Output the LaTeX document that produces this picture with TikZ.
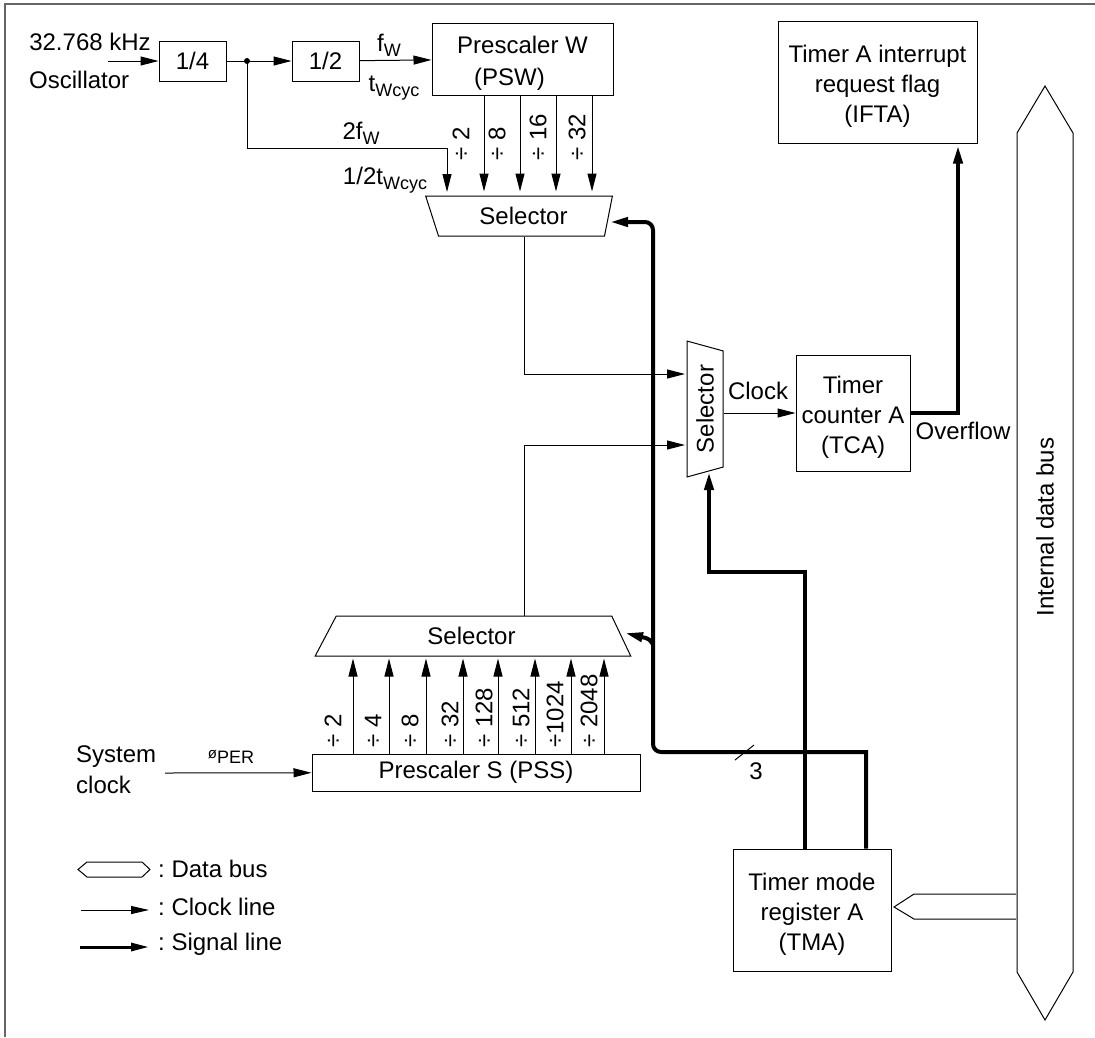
\documentclass[tikz,border=0pt]{standalone}
\usepackage{fontspec}
\setmainfont{Liberation Sans}
\usetikzlibrary{arrows.meta,shapes.geometric}
\newcommand{\lowtxt}[1]{\raisebox{-5pt}{\fontsize{18}{18}\selectfont #1}}
\newcommand{\topgap}{\rule{0pt}{25pt}}
\tikzset{
  every node/.style={font=\fontsize{24}{30}\selectfont, inner sep=0pt},
  blockbox/.style={draw, line width=1pt, align=center, fill=white},
  selbox/.style={draw, line width=1pt, trapezium, trapezium stretches=true},
  clockline/.style={line width=1pt, -{Triangle[length=18pt,width=9pt]}},
  sigline/.style={line width=4pt, -{Triangle[length=18pt,width=9pt]}},
  busline/.style={line width=1pt},
  divlabel/.style={rotate=90, anchor=west},
}
\begin{document}
\begin{tikzpicture}[x=1pt,y=-1pt]
\useasboundingbox (0,0) rectangle (1095,1037);
\draw[line width=1.5pt, black!60] (1095,4) -- (5,4) -- (5,1037);
% clock blocks
\node[blockbox, minimum width=67pt, minimum height=40pt] (diva) at (192.5,61) {1/4};
\node[blockbox, minimum width=67pt, minimum height=40pt] (divb) at (325.5,61) {1/2};
\node[blockbox, minimum width=181pt, minimum height=72pt] (psw) at (522.5,59) {\topgap Prescaler W\\[2pt](PSW)\hspace{26pt}\mbox{}};
\node[blockbox, minimum width=199pt, minimum height=122pt] (ifta) at (877.5,82) {\topgap Timer A interrupt\\request flag\\(IFTA)};
\node[blockbox, minimum width=114pt, minimum height=116pt] (tca) at (853,413) {\topgap Timer\\counter A\\(TCA)};
\node[blockbox, minimum width=158pt, minimum height=122pt] (tma) at (812,910) {\topgap Timer mode\\register A\\(TMA)};
\node[blockbox, minimum width=328pt, minimum height=37pt] (pss) at (476,772.5) {Prescaler S (PSS)};
% selectors
\node[selbox, minimum width=187pt, minimum height=40pt, shape border rotate=180,
  trapezium left angle=76, trapezium right angle=68] (sela) at (521.5,216) {\hspace*{4pt}Selector};
\node[selbox, minimum width=316pt, minimum height=40pt,
  trapezium left angle=68, trapezium right angle=70] (selb) at (474,636) {Selector\hspace*{5pt}};
\node[selbox, minimum width=136pt, minimum height=36pt, shape border rotate=180, rotate=90,
  trapezium left angle=67, trapezium right angle=67] (selc) at (705,409) {Selector};
% free ends
\coordinate (osc) at (108,61);
\coordinate (sysclk) at (165,773);
\coordinate (junc) at (247,61);
\coordinate (brk) at (447,148);
\coordinate (selain) at (447,192);
\coordinate (ina) at (685,374);
\coordinate (inb) at (685,445);
\coordinate (outa) at (524,0);
\coordinate (sigx) at (653,752);
\coordinate (sigup) at (653,222);
\coordinate (sigtop) at (610,222);
\coordinate (sigbot) at (625,633);
\coordinate (tmaa) at (805,0);
\coordinate (tmab) at (866,0);
\coordinate (ovfl) at (958,0);
\draw[clockline] (osc) -- (diva);
\draw[clockline] (diva) -- (divb);
\draw[clockline] (divb) -- (psw);
\fill (junc) circle (3pt);
\draw[clockline] (junc) |- (brk) -- (selain);
\foreach \x in {484,520,556,592} {
  \coordinate (pw\x) at (\x,0);
  \draw[clockline, shorten >=4pt] (psw.south -| pw\x) -- (sela.north -| pw\x);
}
\foreach \x in {353,389,426,463,498,535,571,604} {
  \coordinate (ps\x) at (\x,0);
  \draw[clockline, shorten >=2pt] (pss.north -| ps\x) -- (selb.south -| ps\x);
}
\draw[clockline] (sela.south -| outa) |- (ina);
\draw[clockline] (selb.north -| outa) |- (inb);
\draw[clockline] (selc.south |- tca) -- (tca);
\draw[clockline] (sysclk) -- (pss);
% signal lines
\draw[sigline] (tmab |- tma.north) -- (tmab |- sigx) [rounded corners=8pt] -- (sigx) -- (sigup) -- (sigtop);
\draw[sigline, rounded corners=4pt] (653,645) -- (650,639) -- (sigbot);
\draw[sigline] (tmaa |- tma.north) |- (709,572) -- (709,472);
\draw[sigline, shorten >=2pt] (tca.east) -| (ifta.south -| ovfl);
\draw[line width=1pt] (735,760) -- (754,745);
% data bus
\draw[busline, fill=white] (1017,133) -- (1045,86) -- (1073,133) -- (1073,972) -- (1045,1020) -- (1017,972) -- cycle;
\node[rotate=90] (buslabel) at (1045,527) {Internal data bus};
\draw[busline] (1016,894) -- (914,894) -- (894,907) -- (914,919) -- (1016,919);
% labels
\node (lblosca) at (90,42) {32.768 kHz};
\node[anchor=west] (lbloscb) at (29,80) {Oscillator};
\node (lblfw) at (389,45) {f\lowtxt{W}};
\node (lbltw) at (394,88) {t\lowtxt{Wcyc}};
\node (lbltwof) at (361,133) {2f\lowtxt{W}};
\node (lblhalf) at (385,180) {1/2t\lowtxt{Wcyc}};
\node[divlabel] (da) at (461,161) {÷ 2};
\node[divlabel] (db) at (497,161) {÷ 8};
\node[divlabel] (dc) at (538,161) {÷ 16};
\node[divlabel] (dd) at (577,161) {÷ 32};
\node[divlabel] (pa) at (333,748) {÷ 2};
\node[divlabel] (pb) at (373,748) {÷ 4};
\node[divlabel] (pc) at (410,748) {÷ 8};
\node[divlabel] (pd) at (450,748) {÷ 32};
\node[divlabel] (pe) at (484,748) {÷ 128};
\node[divlabel] (pf) at (521,748) {÷ 512};
\node[divlabel] (pg) at (555,748) {÷1024};
\node[divlabel] (ph) at (589,748) {÷ 2048};
\node (lblclock) at (758,391) {Clock};
\node (lblover) at (963,431) {Overflow};
\node (lblthree) at (756,771) {3};
\node[anchor=west] (lblsysa) at (76,757) {System};
\node[anchor=west] (lblsysb) at (76,785) {clock};
\node (lblper) at (231,757) {{\fontsize{15}{15}\selectfont ø}\lowtxt{PER}};
% legend
\draw[busline] (87,862) -- (78,869.5) -- (87,877) -- (142,877) -- (150,869.5) -- (142,862) -- cycle;
\coordinate (lca) at (81,910);
\coordinate (lcb) at (149,910);
\coordinate (lsa) at (80,947);
\coordinate (lsb) at (149,947);
\draw[line width=1pt, -{Triangle[length=18pt,width=8pt]}] (lca) -- (lcb);
\draw[line width=3pt, -{Triangle[length=18pt,width=8pt]}] (lsa) -- (lsb);
\node[anchor=west] (lgda) at (158,869) {:\ Data bus};
\node[anchor=west] (lgdb) at (158,907) {:\ Clock line};
\node[anchor=west] (lgdc) at (158,944) {:\ Signal line};
\end{tikzpicture}
\end{document}
